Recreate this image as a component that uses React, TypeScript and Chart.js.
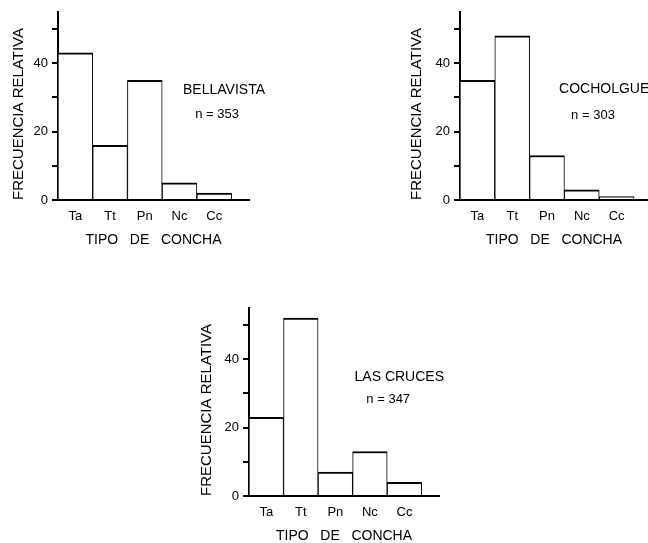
import React, { useEffect, useRef } from "react";
import { Chart, registerables } from "chart.js";

Chart.register(...registerables);

// ---- data ----
const shellTypes = ["Ta", "Tt", "Pn", "Nc", "Cc"];
const bellavistaValues = [43, 16, 35, 5, 2];
const cocholgueValues = [35, 48, 13, 3, 1];
const lasCrucesValues = [23, 52, 7, 13, 4];
const yTickLabels = ["0", "20", "40"];
const yAxisTitle = "FRECUENCIA RELATIVA";
const xAxisTitle = "TIPO   DE   CONCHA";

const FONT = "'Liberation Sans', Arial, sans-serif";
const INK = "#000";

type Note = { text: string; x: number; y: number; size: number };

const notePlugin = {
  id: "notes",
  afterDatasetsDraw(chart: any, _args: any, opts: any) {
    const { ctx } = chart;
    const xs = chart.scales.x;
    const ys = chart.scales.y;
    ctx.save();
    ctx.fillStyle = INK;
    ctx.textAlign = "center";
    ctx.textBaseline = "middle";
    for (const n of (opts.items || []) as Note[]) {
      ctx.font = `${n.size}px ${FONT}`;
      ctx.fillText(n.text, xs.getPixelForValue(n.x), ys.getPixelForValue(n.y));
    }
    ctx.restore();
  },
};

type PanelProps = {
  left: number;
  top: number;
  width: number;
  height: number;
  values: number[];
  yAxisWidth: number;
  padRight: number;
  xMax: number;
  yTitlePad: number;
  notes: Note[];
};

function Panel(p: PanelProps) {
  const ref = useRef<HTMLCanvasElement>(null);
  useEffect(() => {
    if (!ref.current) return;
    const points = shellTypes.map((_, i) => ({ x: i + 0.5, y: p.values[i] }));
    const chart = new Chart(ref.current, {
      type: "bar",
      data: {
        datasets: [
          {
            data: points as any,
            backgroundColor: "#ffffff",
            borderColor: INK,
            borderWidth: { top: 2, left: 1, right: 1, bottom: 0 } as any,
            borderSkipped: "start",
            barPercentage: 1,
            categoryPercentage: 1,
          },
        ],
      },
      options: {
        animation: false,
        responsive: false,
        layout: { padding: { left: 0, top: 11, right: p.padRight, bottom: 0 } },
        plugins: {
          legend: { display: false },
          tooltip: { enabled: false },
          notes: { items: p.notes },
        } as any,
        scales: {
          x: {
            type: "linear",
            min: 0,
            max: p.xMax,
            offset: false,
            grid: { display: false, drawTicks: false, offset: false },
            border: { display: true, color: INK, width: 2 },
            ticks: {
              padding: 9,
              autoSkip: false,
              maxRotation: 0,
              color: INK,
              font: { family: FONT, size: 13 },
              callback: (_v: any, i: number) => shellTypes[i],
            },
            afterBuildTicks: (scale: any) => {
              scale.ticks = shellTypes.map((_, i) => ({ value: i + 0.5 }));
            },
            afterFit: (scale: any) => {
              scale.height = p.height - 11 - 189;
            },
            title: {
              display: true,
              text: xAxisTitle,
              color: INK,
              font: { family: FONT, size: 14 },
              padding: { top: 0, bottom: 6 },
            },
          },
          y: {
            type: "linear",
            min: 0,
            max: 55,
            grid: {
              drawOnChartArea: false,
              drawTicks: true,
              tickLength: 6,
              color: INK,
              lineWidth: 2,
            },
            border: { display: true, color: INK, width: 2 },
            ticks: {
              stepSize: 10,
              includeBounds: false,
              padding: 4,
              color: INK,
              font: { family: FONT, size: 13 },
              callback: (v: any) => (yTickLabels.includes(String(v)) ? String(v) : ""),
            },
            afterFit: (scale: any) => {
              scale.width = p.yAxisWidth;
            },
            title: {
              display: true,
              text: yAxisTitle,
              align: "start",
              color: INK,
              font: { family: FONT, size: 15 },
              padding: { top: p.yTitlePad, bottom: 0 },
            },
          },
        },
      } as any,
      plugins: [notePlugin],
    });
    return () => chart.destroy();
  }, []);
  return (
    <canvas
      ref={ref}
      width={p.width}
      height={p.height}
      style={{ position: "absolute", left: p.left, top: p.top, display: "block" }}
    />
  );
}

export default function App() {
  return (
    <div
      style={{
        position: "absolute",
        left: 0,
        top: 0,
        width: 648,
        height: 543,
        overflow: "hidden",
        background: "#fff",
      }}
    >
      <Panel
        left={0}
        top={0}
        width={290}
        height={255}
        values={bellavistaValues}
        yAxisWidth={58}
        padRight={41}
        xMax={5.5}
        yTitlePad={10}
        notes={[
          { text: "BELLAVISTA", x: 4.78, y: 32, size: 14 },
          { text: "n = 353", x: 4.58, y: 25, size: 13 },
        ]}
      />
      <Panel
        left={400}
        top={0}
        width={248}
        height={255}
        values={cocholgueValues}
        yAxisWidth={60}
        padRight={0}
        xMax={5.4}
        yTitlePad={8}
        notes={[
          { text: "COCHOLGUE", x: 4.14, y: 32.4, size: 14 },
          { text: "n = 303", x: 3.82, y: 24.8, size: 13 },
        ]}
      />
      <Panel
        left={190}
        top={296}
        width={260}
        height={255}
        values={lasCrucesValues}
        yAxisWidth={59}
        padRight={11}
        xMax={5.5}
        yTitlePad={8}
        notes={[
          { text: "LAS CRUCES", x: 4.35, y: 34.7, size: 14 },
          { text: "n = 347", x: 4.03, y: 28.3, size: 13 },
        ]}
      />
    </div>
  );
}
